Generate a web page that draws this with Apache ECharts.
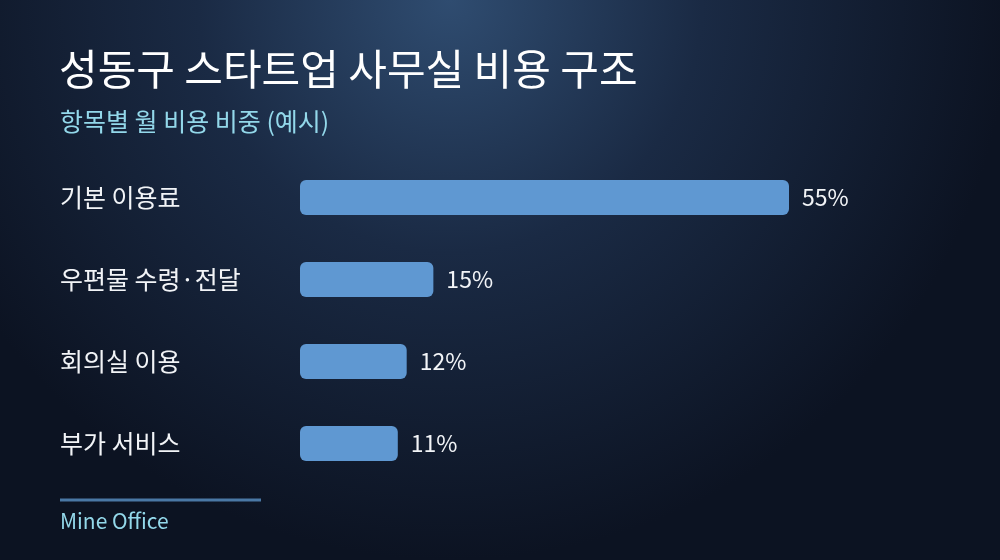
<!DOCTYPE html>
<html><head><meta charset="utf-8">
<script src="https://cdn.jsdelivr.net/npm/echarts@6/dist/echarts.min.js"></script>
<style>html,body{margin:0;padding:0;background:#0f1828}#c{width:1000px;height:560px}</style>
</head><body><div id="c"></div>
<script>
const categories = ['기본 이용료', '우편물 수령·전달', '회의실 이용', '부가 서비스'];
const values = [55, 15, 12, 11];
const titleText = '성동구 스타트업 사무실 비용 구조';
const subtitleText = '항목별 월 비용 비중 (예시)';
const sourceText = 'Mine Office';

const chart = echarts.init(document.getElementById('c'));
const font = '"Noto Sans CJK KR", "Noto Sans", sans-serif';
chart.setOption({
  backgroundColor: {
    type: 'radial', x: 0.45, y: 0, r: 1.0,
    colorStops: [
      {offset: 0, color: '#2f4c70'},
      {offset: 0.45, color: '#1a2a44'},
      {offset: 1, color: '#0c1322'}
    ]
  },
  title: [{
    text: titleText, left: 59, top: 48, padding: 0,
    textStyle: {color: '#ffffff', fontSize: 42, fontWeight: 'normal', fontFamily: font}
  }, {
    text: subtitleText, left: 60, top: 109, padding: 0,
    textStyle: {color: '#93d8ea', fontSize: 25, fontWeight: 'normal', fontFamily: font}
  }, {
    text: sourceText, left: 60, top: 511, padding: 0,
    textStyle: {color: '#93d8ea', fontSize: 21, fontWeight: 'normal', fontFamily: font}
  }],
  graphic: [{
    type: 'rect', shape: {x: 60, y: 498.5, width: 201, height: 3},
    style: {fill: '#4a78a5'}
  }],
  grid: {left: 300, right: 211, top: 156.5, bottom: 75.5},
  xAxis: {type: 'value', min: 0, max: 55, show: false},
  yAxis: {
    type: 'category', data: categories, inverse: true,
    axisLine: {show: false}, axisTick: {show: false},
    axisLabel: {color: '#f2f4f7', fontSize: 25, align: 'left', margin: 240, fontFamily: font}
  },
  series: [{
    type: 'bar', data: values, barWidth: 35,
    itemStyle: {color: '#5f98d2', borderRadius: 6},
    label: {show: true, position: 'right', distance: 13, formatter: '{c}%', color: '#f2f4f7', fontSize: 23, fontFamily: font}
  }]
});
</script></body></html>
